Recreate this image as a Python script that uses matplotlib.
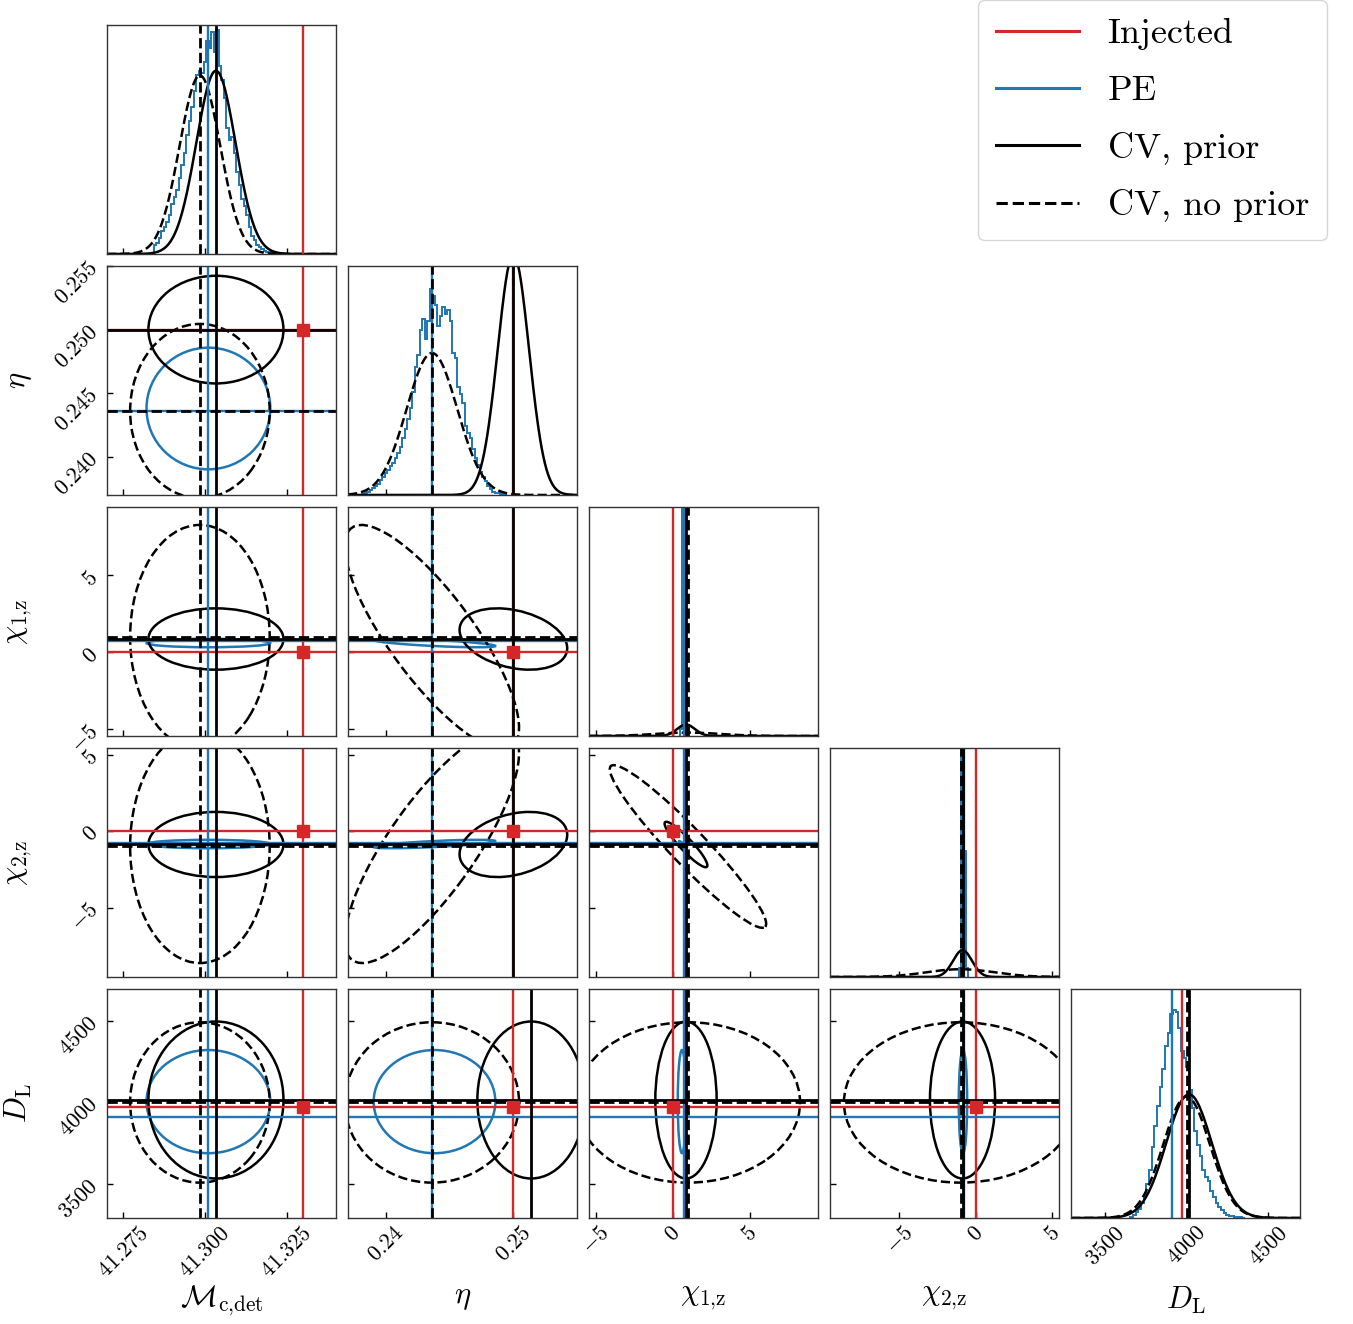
import numpy as np
import matplotlib.pyplot as plt
import matplotlib.transforms as transforms
from matplotlib.patches import Ellipse
from matplotlib.lines import Line2D

plt.rcParams['font.family'] = 'serif'
plt.rcParams['font.serif'] = ['cmr10']
plt.rcParams['mathtext.fontset'] = 'cm'

# parameters: Mc, eta, chi1z, chi2z, DL
labels = [r'$\mathcal{M}_{\rm c{,}det}$', r'$\eta$', r'$\chi_{1{,}\rm z}$',
          r'$\chi_{2{,}\rm z}$', r'$D_{\rm L}$']
lims = [(41.270, 41.340), (0.237, 0.255), (-5.45, 9.45), (-9.55, 5.45), (3291, 4696)]
xticks = [[41.275, 41.300, 41.325], [0.24, 0.25], [-5, 0, 5], [-5, 0, 5], [3500, 4000, 4500]]
xfmt = ['%.3f', '%.2f', '%d', '%d', '%d']
yticks = [[41.275, 41.300, 41.325], [0.240, 0.245, 0.250, 0.255], [-5, 0, 5], [-5, 0, 5],
          [3500, 4000, 4500]]
yfmt = ['%.3f', '%.3f', '%d', '%d', '%d']

injected = [41.330, 0.250, 0.0, 0.0, 3972]
pe_line = [41.3010, 0.2436, 0.70, -0.80, 3910]

# CV gaussians (with prior / without prior)
cv_prior_mean = [41.3033, 0.2500, 0.86, -0.87, 4015]
cv_prior_sigma = [0.0060, 0.00123, 0.58, 0.62, 140]
cv_prior_peak = [0.80, 1.05, 0.05, 0.117, 0.54]
cv_prior_eta_dl_row = 0.2514
cv_noprior_mean = [41.2984, 0.2436, 0.99, -1.00, 4000]
cv_noprior_sigma = [0.0062, 0.00199, 2.12, 2.22, 143]
cv_noprior_peak = [0.78, 0.62, 0.015, 0.034, 0.53]
cv_prior_corr = {(1, 2): -0.30, (1, 3): 0.30, (2, 3): -0.92}
cv_noprior_corr = {(1, 2): -0.81, (1, 3): 0.80, (2, 3): -0.95}

# PE contour summary
pe_center = [41.3010, 0.2438, 0.60, -0.84, 4005]
pe_sigma = [0.0055, 0.00139, 0.08, 0.08, 92]
pe_corr = {(1, 2): -0.7, (1, 3): 0.7, (2, 3): -0.9}

contour_k = 3.44
contour_k_spins = 2.4

# PE 1D histograms (heights as fraction of panel height)
pe_hist_range = [(41.28428, 41.32176), (0.23811, 0.24951), (0.44, 1.00), (-1.10, -0.50), (3655, 4359)]
pe_hist = [
    [0.04, 0.05, 0.07, 0.10, 0.12, 0.14, 0.17, 0.22, 0.25, 0.28, 0.33, 0.39, 0.44, 0.52,
     0.58, 0.64, 0.71, 0.78, 0.80, 0.79, 0.84, 0.93, 0.90, 0.97, 0.88, 0.98, 0.82, 0.76,
     0.68, 0.55, 0.50, 0.51, 0.44, 0.36, 0.30, 0.24, 0.21, 0.17, 0.12, 0.08, 0.06, 0.04,
     0.03, 0.02, 0.015, 0.01, 0.008, 0.005, 0.003],
    [0.005, 0.01, 0.015, 0.02, 0.03, 0.04, 0.05, 0.065, 0.08, 0.095, 0.11, 0.125, 0.14,
     0.16, 0.185, 0.21, 0.25, 0.29, 0.33, 0.38, 0.45, 0.56, 0.61, 0.72, 0.77, 0.68, 0.76,
     0.90, 0.87, 0.83, 0.74, 0.78, 0.82, 0.79, 0.81, 0.76, 0.62, 0.60, 0.47, 0.44, 0.40,
     0.30, 0.27, 0.25, 0.20, 0.16, 0.13, 0.10, 0.08, 0.06, 0.04, 0.025, 0.015, 0.01,
     0.007, 0.005, 0.003, 0.002],
    [0.03, 1.0, 1.0, 0.02],
    [0.04, 1.0, 0.55, 0.04],
    [0.005, 0.012, 0.025, 0.04, 0.065, 0.10, 0.15, 0.21, 0.31, 0.40, 0.49, 0.57, 0.65,
     0.75, 0.81, 0.89, 0.91, 0.90, 0.83, 0.73, 0.70, 0.66, 0.56, 0.48, 0.38, 0.32, 0.27,
     0.21, 0.18, 0.16, 0.12, 0.09, 0.065, 0.05, 0.035, 0.022, 0.014, 0.01, 0.007, 0.005,
     0.004, 0.003, 0.002],
]

RED = '#d62728'
BLUE = '#1f77b4'
LW_K = 2.0   # black lines
LW_C = 1.7   # red / blue lines
LW_E = 1.8   # contours


def ellipse(ax, mx, my, sx, sy, rho, k, **kw):
    e = Ellipse((0, 0), width=2 * np.sqrt(1 + rho), height=2 * np.sqrt(1 - rho),
                fill=False, **kw)
    tr = transforms.Affine2D().rotate_deg(45).scale(k * sx, k * sy).translate(mx, my)
    e.set_transform(tr + ax.transData)
    ax.add_patch(e)


W, H = 1353, 1324
fig = plt.figure(figsize=(W / 100, H / 100), dpi=100)
n = 5
for i in range(n):
    for j in range(i + 1):
        ax = fig.add_axes([(107 + 241 * j) / W, 1 - (25 + 241 * i + 229) / H, 229 / W, 229 / H])
        ax.set_xlim(lims[j])
        if i == j:
            lo, hi = pe_hist_range[j]
            edges = np.linspace(lo, hi, len(pe_hist[j]) + 1)
            ax.stairs(pe_hist[j], edges, color=BLUE, lw=1.4)
            x = np.linspace(lims[j][0], lims[j][1], 300)
            ax.plot(x, cv_prior_peak[j] * np.exp(-0.5 * ((x - cv_prior_mean[j]) / cv_prior_sigma[j]) ** 2),
                    color='k', lw=LW_E)
            ax.plot(x, cv_noprior_peak[j] * np.exp(-0.5 * ((x - cv_noprior_mean[j]) / cv_noprior_sigma[j]) ** 2),
                    color='k', lw=LW_E, ls='--')
            ax.axvline(injected[j], color=RED, lw=LW_C)
            ax.axvline(pe_line[j], color=BLUE, lw=LW_C)
            ax.axvline(cv_prior_mean[j], color='k', lw=LW_K)
            ax.axvline(cv_noprior_mean[j], color='k', lw=LW_K, ls='--')
            ax.set_ylim(0, 1.0)
            ax.set_yticks([])
        else:
            ax.set_ylim(lims[i])
            k = contour_k_spins if (j, i) == (2, 3) else contour_k
            pm = list(cv_prior_mean)
            if i == 4:
                pm[1] = cv_prior_eta_dl_row
            ellipse(ax, pe_center[j], pe_center[i], pe_sigma[j], pe_sigma[i],
                    pe_corr.get((j, i), 0.0), k, color=BLUE, lw=LW_E)
            ellipse(ax, pm[j], pm[i], cv_prior_sigma[j], cv_prior_sigma[i],
                    cv_prior_corr.get((j, i), 0.0), k, color='k', lw=LW_E)
            ellipse(ax, cv_noprior_mean[j], cv_noprior_mean[i], cv_noprior_sigma[j],
                    cv_noprior_sigma[i], cv_noprior_corr.get((j, i), 0.0), k,
                    color='k', lw=LW_E, ls='--')
            ax.axvline(injected[j], color=RED, lw=LW_C)
            ax.axhline(injected[i], color=RED, lw=LW_C)
            ax.axvline(pe_line[j], color=BLUE, lw=LW_C)
            ax.axhline(pe_line[i], color=BLUE, lw=LW_C)
            ax.axvline(pm[j], color='k', lw=LW_K)
            ax.axhline(pm[i], color='k', lw=LW_K)
            ax.axvline(cv_noprior_mean[j], color='k', lw=LW_K, ls='--')
            ax.axhline(cv_noprior_mean[i], color='k', lw=LW_K, ls='--')
            ax.plot(injected[j], injected[i], 's', color=RED, ms=8.5)
            ax.set_yticks(yticks[i])
            if j == 0:
                ax.set_yticklabels([r'$%s$' % (yfmt[i] % t) for t in yticks[i]],
                                   rotation=45, fontsize=16)
                ax.set_ylabel(labels[i], fontsize=22)
                ax.yaxis.set_label_coords(-0.32, 0.5)
            else:
                ax.set_yticklabels([])
        ax.set_xticks(xticks[j])
        if i == n - 1:
            ax.set_xticklabels([r'$%s$' % (xfmt[j] % t) for t in xticks[j]],
                               rotation=45, fontsize=16)
            ax.set_xlabel(labels[j], fontsize=22)
            ax.xaxis.set_label_coords(0.5, -0.29)
        else:
            ax.set_xticklabels([])
        ax.tick_params(direction='in', length=4, width=1, top=False, right=False)
        for s in ax.spines.values():
            s.set_color('#333333')
            s.set_linewidth(1.0)

handles = [Line2D([], [], color=RED, lw=2.2), Line2D([], [], color=BLUE, lw=2.2),
           Line2D([], [], color='k', lw=2.2), Line2D([], [], color='k', lw=2.2, ls='--')]
fig.legend(handles, ['Injected', 'PE', 'CV, prior', 'CV, no prior'],
           loc='upper right', bbox_to_anchor=(1327 / W, 1.0), borderaxespad=0,
           fontsize=26, handlelength=2.3, labelspacing=0.68, borderpad=0.5)

fig.savefig('out.png', dpi=100)
